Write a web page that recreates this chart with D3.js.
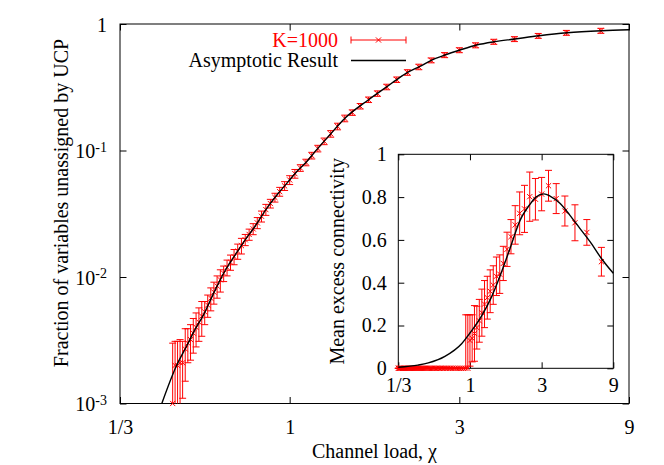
<!DOCTYPE html>
<html><head><meta charset="utf-8">
<script src="https://cdn.jsdelivr.net/npm/d3@7"></script>
<style>body{margin:0;background:#fff} text{font-family:"Liberation Serif","Times New Roman",serif}</style>
</head><body><svg id="c" width="664" height="465"></svg>
<script>
// channel loads of the K=1000 samples (chi = 30/k, k = 4..90)
const chi = [7.5,6,5,4.2857,3.75,3.3333,3,2.7273,2.5,2.3077,2.1429,2,1.875,1.7647,1.6667,1.5789,1.5,1.4286,1.3636,1.3043,1.25,1.2,1.1538,1.1111,1.0714,1.0345,1,0.9677,0.9375,0.9091,0.8824,0.8571,0.8333,0.8108,0.7895,0.7692,0.75,0.7317,0.7143,0.6977,0.6818,0.6667,0.6522,0.6383,0.625,0.6122,0.6,0.5882,0.5769,0.566,0.5556,0.5455,0.5357,0.5263,0.5172,0.5085,0.5,0.4918,0.4839,0.4762,0.4688,0.4615,0.4545,0.4478,0.4412,0.4348,0.4286,0.4225,0.4167,0.411,0.4054,0.4,0.3947,0.3896,0.3846,0.3797,0.375,0.3704,0.3659,0.3614,0.3571,0.3529,0.3488,0.3448,0.3409,0.3371,0.3333];
// main plot: fraction unassigned (first 61 loads)
const fracUnassigned = [0.884,0.852,0.806,0.760,0.724,0.679,0.621,0.568,0.516,0.458,0.414,0.363,0.318,0.282,0.252,0.224,0.1995,0.1795,0.155,0.1355,0.1183,0.1037,0.0912,0.0805,0.0728,0.0656,0.0585,0.0525,0.0473,0.0425,0.0381,0.0341,0.0302,0.0268,0.0240,0.0217,0.0197,0.0177,0.0160,0.0145,0.0131,0.0119,0.0107,0.0095,0.0085,0.0076,0.0068,0.0060,0.0053,0.0049,0.0044,0.0040,0.0036,0.0032,0.0030,0.0027,0.0021,0.0021,0.0020,0.0020,0.0010];
const fracErr = [0.040,0.038,0.036,0.034,0.033,0.031,0.028,0.026,0.023,0.023,0.021,0.018,0.016,0.014,0.0126,0.0112,0.0100,0.0108,0.0093,0.0081,0.0071,0.0062,0.0055,0.0048,0.0044,0.0052,0.0047,0.0042,0.0038,0.0034,0.0030,0.0034,0.0030,0.0027,0.0024,0.0022,0.0020,0.0025,0.0022,0.0020,0.0018,0.0017,0.0015,0.0019,0.0017,0.0015,0.0014,0.0012,0.0011,0.0015,0.0013,0.0012,0.0011,0.0010,0.0009,0.0012,0.0010,0.0011,0.0011,0.0011,0.0020];
// inset: mean excess connectivity (all loads)
const excessConn = [0.498,0.635,0.680,0.735,0.793,0.853,0.814,0.790,0.802,0.745,0.724,0.670,0.615,0.556,0.49,0.44,0.43,0.389,0.36,0.33,0.30,0.26,0.222,0.19,0.163,0.14,0.13,0,0,0,0,0,0,0,0,0,0,0,0,0,0,0,0,0,0,0,0,0,0,0,0,0,0,0,0,0,0,0,0,0,0,0,0,0,0,0,0,0,0,0,0,0,0,0,0,0,0,0,0,0,0,0,0,0,0,0,0];
const excessErr = [0.067,0.06,0.084,0.07,0.07,0.072,0.078,0.097,0.115,0.11,0.10,0.09,0.08,0.08,0.08,0.09,0.09,0.09,0.10,0.10,0.11,0.11,0.10,0.10,0.13,0.11,0.12,0.25,0.25,0,0,0,0,0,0,0,0,0,0,0,0,0,0,0,0,0,0,0,0,0,0,0,0,0,0,0,0,0,0,0,0,0,0,0,0,0,0,0,0,0,0,0,0,0,0,0,0,0,0,0,0,0,0,0,0,0,0];
// asymptotic result, main plot
const curveChi  = [0.437,0.479,0.515,0.542,0.572,0.616,0.658,0.702,0.749,0.794,0.862,0.929,0.991,1.046,1.116,1.178,1.30,1.43,1.663,1.881,2.0,2.145,2.316,2.51,2.733,3.013,3.355,3.76,4.30,5.03,6.04,7.55,9.0];
const curveFrac = [0.00100,0.00195,0.00290,0.00385,0.00500,0.00780,0.01120,0.01490,0.01960,0.02450,0.03490,0.04590,0.05670,0.06800,0.08160,0.09790,0.1340,0.180,0.251,0.321,0.363,0.415,0.460,0.519,0.569,0.623,0.682,0.724,0.761,0.808,0.853,0.885,0.901];
// asymptotic result, inset
const insetCurveChi = [0.3333,0.45,0.528,0.681,0.88,1.0,1.196,1.395,1.583,1.847,2.151,2.5,2.75,3.107,3.41,3.97,4.62,5.39,6.30,7.52,9.0];
const insetCurveVal = [0.005,0.015,0.025,0.056,0.115,0.165,0.245,0.335,0.43,0.56,0.69,0.765,0.80,0.815,0.805,0.771,0.716,0.654,0.592,0.512,0.444];
const xTickVals = [1/3,1,3,9];
const xTickLabels = ["1/3","1","3","9"];
const yTickVals = [1e-3,1e-2,1e-1,1];
const yTickBase = ["10","10","10","1"];
const yTickSup = ["-3","-2","-1",""];
const insetYTicks = [0,0.2,0.4,0.6,0.8,1];
const insetYLabels = ["0","0.2","0.4","0.6","0.8","1"];

const svg = d3.select("#c");
const FS = 20;
const red = "#ff0000";

// ---------- main plot
const L=120,R=629,T=24,B=403.5;
const x = d3.scaleLog().domain([1/3,9]).range([L,R]);
const y = d3.scaleLog().domain([1e-3,1]).range([B,T]);

svg.append("rect").attr("x",L).attr("y",T).attr("width",R-L).attr("height",B-T).attr("fill","none").attr("stroke","#000").attr("stroke-width",1);

const gx = svg.append("g").attr("transform",`translate(0,${B})`)
  .call(d3.axisBottom(x).tickValues(xTickVals).tickFormat((d,i)=>xTickLabels[i]).tickSize(-6.5).tickPadding(16));
const gxt = svg.append("g").attr("transform",`translate(0,${T})`)
  .call(d3.axisTop(x).tickValues(xTickVals).tickFormat("").tickSize(-6.5));
const gy = svg.append("g").attr("transform",`translate(${L},0)`)
  .call(d3.axisLeft(y).tickValues(yTickVals).tickFormat("").tickSize(-6.5).tickPadding(13));
const gyr = svg.append("g").attr("transform",`translate(${R},0)`)
  .call(d3.axisRight(y).tickValues(yTickVals).tickFormat("").tickSize(-6.5));
[gx,gxt,gy,gyr].forEach(g=>{g.select(".domain").remove(); g.selectAll("line").attr("stroke","#000");
  g.selectAll("text").attr("font-size",FS).attr("fill","#000").attr("font-family","Liberation Serif");});
gy.selectAll(".tick text").each(function(d,i){
  const t=d3.select(this); t.text(null).attr("dy","0.35em").attr("font-size",FS).attr("fill","#000").attr("font-family","Liberation Serif");
  t.append("tspan").text(yTickBase[i]);
  if(yTickSup[i]) t.append("tspan").attr("dy","-0.45em").attr("font-size",14).text(yTickSup[i]);
});

svg.append("text").attr("x",(L+R)/2).attr("y",458).attr("text-anchor","middle").attr("font-size",FS).text("Channel load, χ");
svg.append("text").attr("transform",`translate(68,203) rotate(-90)`).attr("text-anchor","middle").attr("font-size",FS).text("Fraction of variables unassigned by UCP");

// main data
const mainPts = fracUnassigned.map((v,i)=>({c:chi[i],v,e:fracErr[i]}));
const gm = svg.append("g").attr("stroke",red).attr("stroke-width",1).attr("fill","none");
const cap=3.5, mk=2.6;
mainPts.forEach(p=>{
  const px=x(p.c);
  const lo=p.v-p.e, hi=p.v+p.e;
  const yhi=Math.max(T,y(hi));
  const ylo= lo>1e-3 ? y(lo) : B;
  gm.append("line").attr("x1",px).attr("x2",px).attr("y1",ylo).attr("y2",yhi);
  if(hi<1) gm.append("line").attr("x1",px-cap).attr("x2",px+cap).attr("y1",yhi).attr("y2",yhi);
  if(lo>1e-3) gm.append("line").attr("x1",px-cap).attr("x2",px+cap).attr("y1",ylo).attr("y2",ylo);
  const py=y(p.v);
  gm.append("path").attr("d",`M${px-mk},${py-mk}L${px+mk},${py+mk}M${px-mk},${py+mk}L${px+mk},${py-mk}`);
});

const line = d3.line().x(d=>x(d[0])).y(d=>y(d[1])).curve(d3.curveMonotoneX);
svg.append("path").datum(curveChi.map((c,i)=>[c,curveFrac[i]])).attr("d",line).attr("fill","none").attr("stroke","#000").attr("stroke-width",1.4);

// legend
svg.append("text").attr("x",338).attr("y",47).attr("text-anchor","end").attr("font-size",FS).attr("fill",red).text("K=1000");
const lg = svg.append("g").attr("stroke",red).attr("stroke-width",1);
lg.append("line").attr("x1",351).attr("x2",406).attr("y1",40).attr("y2",40);
lg.append("line").attr("x1",351).attr("x2",351).attr("y1",36.5).attr("y2",43.5);
lg.append("line").attr("x1",406).attr("x2",406).attr("y1",36.5).attr("y2",43.5);
lg.append("path").attr("fill","none").attr("d",`M${378.5-mk},${40-mk}L${378.5+mk},${40+mk}M${378.5-mk},${40+mk}L${378.5+mk},${40-mk}`);
svg.append("text").attr("x",338).attr("y",67).attr("text-anchor","end").attr("font-size",FS).text("Asymptotic Result");
svg.append("line").attr("x1",351).attr("x2",406).attr("y1",60.5).attr("y2",60.5).attr("stroke","#000").attr("stroke-width",1.4);

// ---------- inset
const iL=398.3,iR=613.3,iT=154.3,iB=368.3;
const ix = d3.scaleLog().domain([1/3,9]).range([iL,iR]);
const iy = d3.scaleLinear().domain([0,1]).range([iB,iT]);
svg.append("rect").attr("x",iL).attr("y",iT).attr("width",iR-iL).attr("height",iB-iT).attr("fill","#fff").attr("stroke","#000").attr("stroke-width",1);
const ig1 = svg.append("g").attr("transform",`translate(0,${iB})`)
  .call(d3.axisBottom(ix).tickValues(xTickVals).tickFormat((d,i)=>xTickLabels[i]).tickSize(-6).tickPadding(10));
const ig2 = svg.append("g").attr("transform",`translate(0,${iT})`)
  .call(d3.axisTop(ix).tickValues(xTickVals).tickFormat("").tickSize(-6));
const ig3 = svg.append("g").attr("transform",`translate(${iL},0)`)
  .call(d3.axisLeft(iy).tickValues(insetYTicks).tickFormat((d,i)=>insetYLabels[i]).tickSize(-6).tickPadding(11.5));
const ig4 = svg.append("g").attr("transform",`translate(${iR},0)`)
  .call(d3.axisRight(iy).tickValues(insetYTicks).tickFormat("").tickSize(-6));
[ig1,ig2,ig3,ig4].forEach(g=>{g.select(".domain").remove(); g.selectAll("line").attr("stroke","#000");
  g.selectAll("text").attr("font-size",FS).attr("fill","#000").attr("font-family","Liberation Serif");});
svg.append("text").attr("transform",`translate(344,${(iT+iB)/2}) rotate(-90)`).attr("text-anchor","middle").attr("font-size",FS).text("Mean excess connectivity");

const gi = svg.append("g").attr("stroke",red).attr("stroke-width",1).attr("fill","none");
excessConn.forEach((v,i)=>{
  const e=excessErr[i], px=ix(chi[i]);
  const lo=v-e, hi=v+e;
  const yhi=iy(Math.min(hi,1)), ylo=lo>=0?iy(lo):iB;
  gi.append("line").attr("x1",px).attr("x2",px).attr("y1",ylo).attr("y2",yhi);
  gi.append("line").attr("x1",px-cap).attr("x2",px+cap).attr("y1",yhi).attr("y2",yhi);
  if(lo>=0) gi.append("line").attr("x1",px-cap).attr("x2",px+cap).attr("y1",ylo).attr("y2",ylo);
  const py=iy(v);
  gi.append("path").attr("d",`M${px-mk},${py-mk}L${px+mk},${py+mk}M${px-mk},${py+mk}L${px+mk},${py-mk}`);
});
const iline = d3.line().x(d=>ix(d[0])).y(d=>iy(d[1])).curve(d3.curveMonotoneX);
svg.append("path").datum(insetCurveChi.map((c,i)=>[c,insetCurveVal[i]])).attr("d",iline).attr("fill","none").attr("stroke","#000").attr("stroke-width",1.4);
</script></body></html>
